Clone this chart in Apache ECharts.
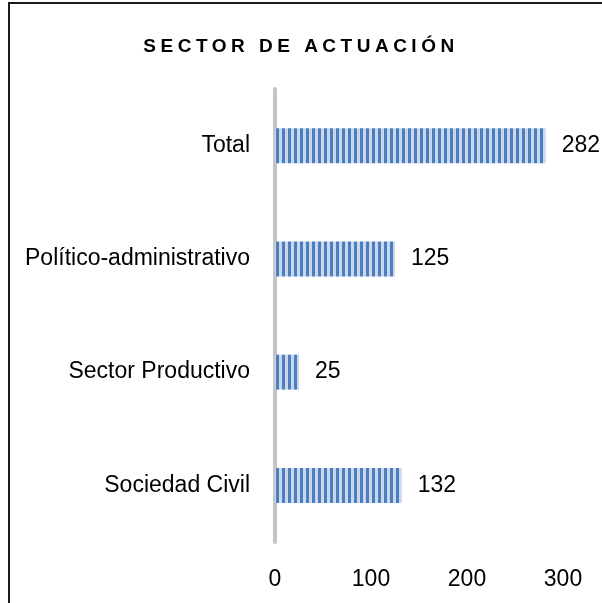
<!DOCTYPE html>
<html>
<head>
<meta charset="utf-8">
<script src="https://cdn.jsdelivr.net/npm/echarts@6/dist/echarts.min.js"></script>
<style>
html, body { margin: 0; padding: 0; background: #fff; }
#chart { width: 602px; height: 603px; }
</style>
</head>
<body>
<div id="chart"></div>
<script>
// datos
var categorias = ['Total', 'Político-administrativo', 'Sector Productivo', 'Sociedad Civil'];
var valores = [282, 125, 25, 132];
var ticksX = [0, 100, 200, 300];
var titulo = 'SECTOR DE ACTUACIÓN';

// espaciado de letras solo para el titulo (negrita)
var origFill = CanvasRenderingContext2D.prototype.fillText;
CanvasRenderingContext2D.prototype.fillText = function (t, x, y, w) {
    if ('letterSpacing' in this) {
        this.letterSpacing = this.font.indexOf('bold') >= 0 ? '4.5px' : '0px';
    }
    return origFill.apply(this, arguments);
};

// patron de rayas verticales
var rayas = document.createElement('canvas');
rayas.width = 6;
rayas.height = 4;
var c = rayas.getContext('2d');
c.fillStyle = '#c9d8ec';
c.fillRect(0, 0, 6, 4);
c.fillStyle = '#4d7fc0';
c.fillRect(0, 0, 3, 4);

var fuente = "'Liberation Sans', Arial, sans-serif";

var chart = echarts.init(document.getElementById('chart'));
var option = {
    animation: false,
    backgroundColor: '#fff',
    title: {
        text: titulo,
        left: 'center',
        top: 32,
        textStyle: {
            fontFamily: fuente,
            fontWeight: 'bold',
            fontSize: 19,
            color: '#000'
        }
    },
    graphic: [{
        type: 'rect',
        shape: { x: 9, y: 3, width: 700, height: 700 },
        style: { fill: 'none', stroke: '#1a1a1a', lineWidth: 2 },
        silent: true
    }],
    grid: {
        left: 275,
        right: 39,
        top: 89,
        bottom: 61
    },
    xAxis: {
        type: 'value',
        min: ticksX[0],
        max: ticksX[ticksX.length - 1],
        interval: 100,
        axisLine: { show: false },
        axisTick: { show: false },
        splitLine: { show: false },
        axisLabel: {
            margin: 26,
            fontFamily: fuente,
            fontSize: 23,
            color: '#000'
        }
    },
    yAxis: {
        type: 'category',
        data: categorias,
        inverse: true,
        axisTick: { show: false },
        axisLine: { lineStyle: { color: '#c4c4c4', width: 4 } },
        axisLabel: {
            margin: 25,
            fontFamily: fuente,
            fontSize: 23,
            color: '#000'
        }
    },
    series: [{
        type: 'bar',
        data: valores,
        barWidth: 35,
        itemStyle: {
            color: { image: rayas, repeat: 'repeat' }
        },
        label: {
            show: true,
            position: 'right',
            distance: 16,
            fontFamily: fuente,
            fontSize: 23,
            color: '#000'
        }
    }]
};
chart.setOption(option);
</script>
</body>
</html>
